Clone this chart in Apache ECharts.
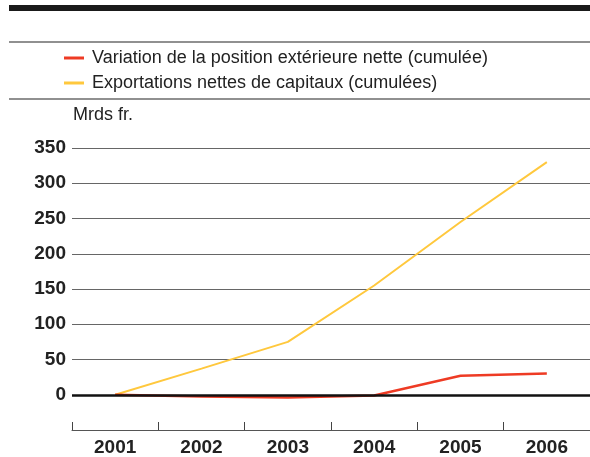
<!DOCTYPE html>
<html>
<head>
<meta charset="utf-8">
<script src="https://cdn.jsdelivr.net/npm/echarts@6/dist/echarts.min.js"></script>
<style>
  html, body { margin: 0; padding: 0; background: #fff; }
  #main { width: 590px; height: 457px; }
</style>
</head>
<body>
<div id="main"></div>
<script>
// données (Mrds fr.)
var years = ["2001", "2002", "2003", "2004", "2005", "2006"];
var positionNette = [0, -2.5, -4, -1, 27, 30];
var exportCapitaux = [0, 37, 75, 155, 245, 330];
var yTicks = [0, 50, 100, 150, 200, 250, 300, 350];

var redName = "Variation de la position extérieure nette (cumulée)";
var yellowName = "Exportations nettes de capitaux (cumulées)";

var chart = echarts.init(document.getElementById("main"));

var option = {
  animation: false,
  grid: { left: 72, right: 0, top: 148, bottom: 27 },
  legend: {
    orient: "vertical",
    left: 59,
    top: 44,
    itemWidth: 20,
    itemHeight: 3,
    itemGap: 7,
    icon: "rect",
    textStyle: { fontFamily: "Liberation Sans Narrow, Liberation Sans", fontSize: 18, color: "#222", padding: [0, 0, 0, 3] },
    data: [redName, yellowName]
  },
  xAxis: {
    type: "category",
    data: years,
    boundaryGap: true,
    axisLine: { onZero: false, lineStyle: { color: "#555", width: 1 } },
    axisTick: { show: true, interval: 0, inside: true, length: 8, lineStyle: { color: "#444", width: 1 } },
    axisLabel: { fontFamily: "Liberation Sans", fontWeight: "bold", fontSize: 19, color: "#222", margin: 8 }
  },
  yAxis: {
    type: "value",
    min: -50,
    max: 350,
    interval: 50,
    axisLine: { show: false },
    axisTick: { show: false },
    splitLine: { lineStyle: { color: "#666", width: 1 } },
    axisLabel: {
      fontFamily: "Liberation Sans", fontWeight: "bold", fontSize: 19, color: "#222", margin: 6,
      formatter: function (v) { return yTicks.indexOf(v) >= 0 ? String(v) : ""; }
    }
  },
  graphic: [
    { type: "rect", shape: { x: 9, y: 5, width: 581, height: 6 }, style: { fill: "#1a1a1a" } },
    { type: "rect", shape: { x: 9, y: 41.5, width: 581, height: 1 }, style: { fill: "#222" } },
    { type: "rect", shape: { x: 9, y: 98.5, width: 581, height: 1 }, style: { fill: "#222" } },
    { type: "text", left: 73, top: 106, style: { text: "Mrds fr.", font: "18px 'Liberation Sans Narrow', 'Liberation Sans'", fill: "#222" } }
  ],
  series: [
    {
      name: yellowName,
      type: "line",
      data: exportCapitaux,
      symbol: "none",
      lineStyle: { color: "#ffc83d", width: 2 },
      itemStyle: { color: "#ffc83d" },
      z: 3
    },
    {
      name: redName,
      type: "line",
      data: positionNette,
      symbol: "none",
      lineStyle: { color: "#ee3b24", width: 2.5 },
      itemStyle: { color: "#ee3b24" },
      z: 4,
      markLine: {
        silent: true,
        symbol: "none",
        label: { show: false },
        lineStyle: { color: "#111", width: 2.5, type: "solid" },
        data: [{ yAxis: 0 }]
      }
    }
  ]
};

chart.setOption(option);
</script>
</body>
</html>
